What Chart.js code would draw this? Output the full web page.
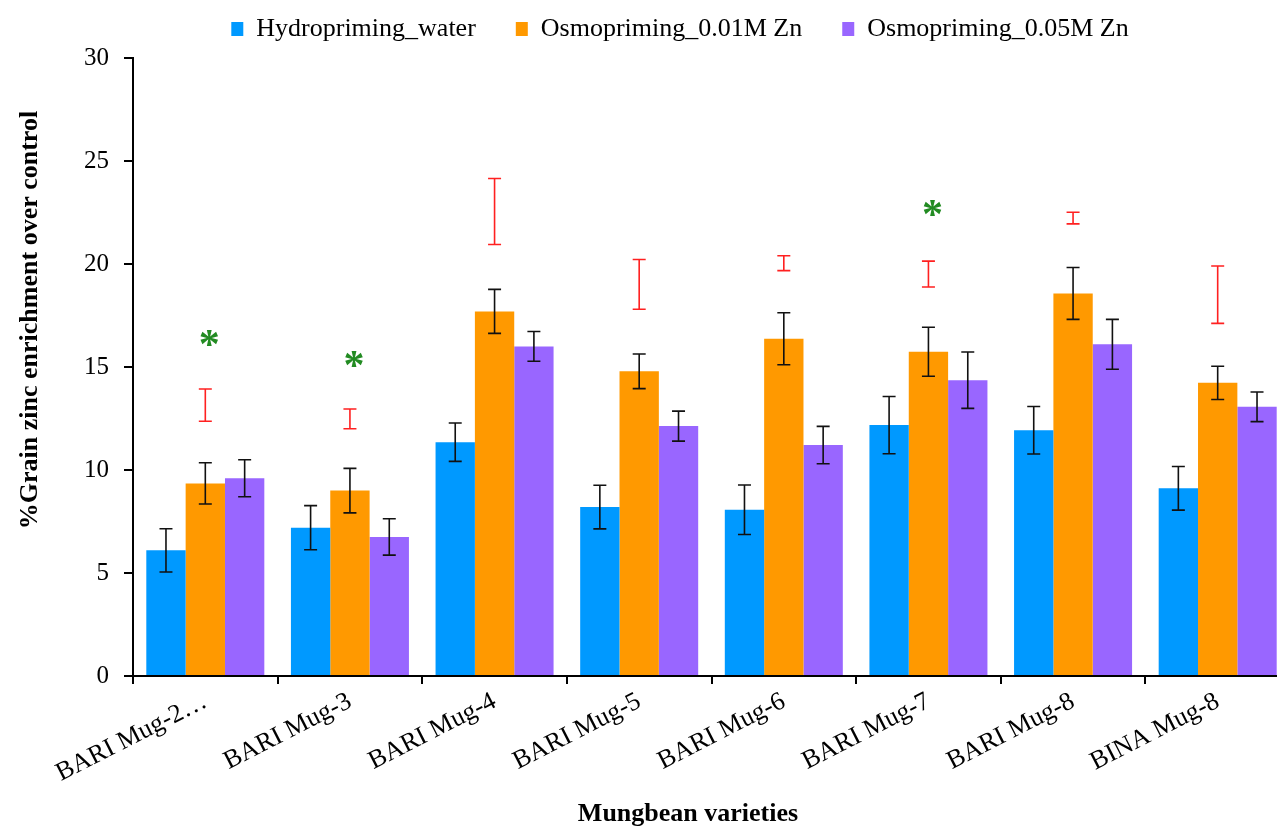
<!DOCTYPE html>
<html><head><meta charset="utf-8">
<script src="https://cdn.jsdelivr.net/npm/chart.js@4.4.0/dist/chart.umd.min.js"></script>
<style>html,body{margin:0;padding:0;overflow:hidden;background:#fff;width:1277px;height:828px}canvas{display:block}</style>
</head><body>
<canvas id="c" width="1290" height="828"></canvas>
<script>
const categories = ["BARI Mug-2\u2026", "BARI Mug-3", "BARI Mug-4", "BARI Mug-5", "BARI Mug-6", "BARI Mug-7", "BARI Mug-8", "BINA Mug-8"];
const seriesNames = ["Hydropriming_water", "Osmopriming_0.01M Zn", "Osmopriming_0.05M Zn"];
const hydro      = [6.10, 7.20, 11.35, 8.20, 8.07, 12.18, 11.93, 9.11];
const hydroErr   = [1.05, 1.07, 0.93, 1.06, 1.20, 1.39, 1.15, 1.06];
const osmo01     = [9.35, 9.00, 17.70, 14.79, 16.37, 15.74, 18.57, 14.23];
const osmo01Err  = [1.00, 1.08, 1.07, 0.84, 1.26, 1.19, 1.26, 0.81];
const osmo05     = [9.60, 6.75, 16.00, 12.13, 11.21, 14.36, 16.10, 13.07];
const osmo05Err  = [0.90, 0.88, 0.72, 0.73, 0.91, 1.37, 1.21, 0.72];
const sigMean    = [13.15, 12.48, 22.55, 19.01, 20.04, 19.51, 22.23, 18.51];
const sigErr     = [0.78, 0.48, 1.60, 1.21, 0.36, 0.63, 0.28, 1.39];
const asterisk   = [16.3, 15.3, null, null, null, 22.6, null, null];
const yTicks     = [0, 5, 10, 15, 20, 25, 30];
const xTitle = "Mungbean varieties";
const yTitle = "%Grain zinc enrichment over control";

const SERIF = '"Liberation Serif", "Times New Roman", serif';
const colors = ["#0099FF", "#FF9900", "#9966FF"];

const errorBarPlugin = {
  id: 'errorBars',
  afterDatasetsDraw(chart) {
    const ctx = chart.ctx, ys = chart.scales.y;
    const cap = 6.5;
    function draw(x, v, e, color) {
      const t = ys.getPixelForValue(v + e), b = ys.getPixelForValue(v - e);
      ctx.strokeStyle = color; ctx.lineWidth = 1.6;
      ctx.beginPath();
      ctx.moveTo(x, t); ctx.lineTo(x, b);
      ctx.moveTo(x - cap, t); ctx.lineTo(x + cap, t);
      ctx.moveTo(x - cap, b); ctx.lineTo(x + cap, b);
      ctx.stroke();
    }
    ctx.save();
    const sets = [[hydro, hydroErr], [osmo01, osmo01Err], [osmo05, osmo05Err]];
    sets.forEach((s, i) => {
      const meta = chart.getDatasetMeta(i);
      meta.data.forEach((el, j) => draw(el.x, s[0][j], s[1][j], '#111111'));
    });
    const om = chart.getDatasetMeta(1);
    om.data.forEach((el, j) => draw(el.x, sigMean[j], sigErr[j], '#FF2020'));
    ctx.fillStyle = '#228B22';
    ctx.font = 'bold 42px ' + SERIF;
    ctx.textAlign = 'center';
    ctx.textBaseline = 'middle';
    om.data.forEach((el, j) => {
      if (asterisk[j] != null) ctx.fillText('*', el.x + 4, ys.getPixelForValue(asterisk[j]) + 7);
    });
    ctx.restore();
  }
};

const titlePlugin = {
  id: 'axisTitles',
  afterDraw(chart) {
    const ctx = chart.ctx;
    ctx.save();
    ctx.fillStyle = '#000';
    ctx.font = 'bold 26px ' + SERIF;
    ctx.textAlign = 'center';
    ctx.textBaseline = 'middle';
    ctx.fillText(xTitle, 688, 814);
    ctx.translate(30, 320);
    ctx.rotate(-Math.PI / 2);
    ctx.fillText(yTitle, 0, 0);
    ctx.restore();
  }
};

const legendPlugin = {
  id: 'legendPos',
  afterInit(chart) {
    const lg = chart.legend;
    const orig = lg.fit.bind(lg);
    lg.fit = function () { orig(); this.height = 58; };
  },
  afterLayout(chart) {
    const lg = chart.legend;
    lg.top = -24; lg.bottom = 56; lg.height = 80;
    lg.left += 35; lg.right += 35;
  }
};

new Chart(document.getElementById('c'), {
  type: 'bar',
  data: {
    labels: categories,
    datasets: [
      { label: seriesNames[0], data: hydro, backgroundColor: colors[0] },
      { label: seriesNames[1], data: osmo01, backgroundColor: colors[1] },
      { label: seriesNames[2], data: osmo05, backgroundColor: colors[2] }
    ]
  },
  options: {
    responsive: false,
    animation: false,
    devicePixelRatio: 1,
    layout: { padding: 0 },
    datasets: { bar: { categoryPercentage: 0.816, barPercentage: 1.0, borderWidth: 0 } },
    plugins: {
      legend: {
        position: 'top',
        labels: {
          boxWidth: 12, boxHeight: 14, padding: 40, color: '#000',
          font: { family: SERIF, size: 26 }
        }
      },
      tooltip: { enabled: false }
    },
    scales: {
      x: {
        offset: true,
        grid: { offset: true, drawOnChartArea: false, drawTicks: true, tickLength: 8, color: '#000', lineWidth: 2 },
        border: { display: true, color: '#000', width: 2 },
        ticks: { autoSkip: false, minRotation: 27, maxRotation: 27, padding: 2, color: '#000', font: { family: SERIF, size: 26 } },
        afterFit(scale) { scale.height = 152; }
      },
      y: {
        min: 0, max: 30,
        afterBuildTicks(scale) { scale.ticks = yTicks.map(v => ({ value: v })); },
        grid: { drawOnChartArea: false, drawTicks: true, tickLength: 9, color: '#000', lineWidth: 2 },
        border: { display: true, color: '#000', width: 2 },
        ticks: { padding: 15, color: '#000', font: { family: SERIF, size: 25 } },
        afterFit(scale) { scale.width = 133; }
      }
    }
  },
  plugins: [errorBarPlugin, titlePlugin, legendPlugin]
});
</script>
</body></html>
